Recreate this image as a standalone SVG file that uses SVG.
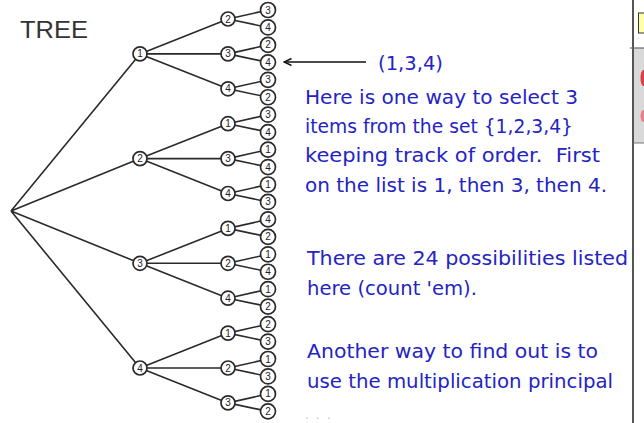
<svg xmlns="http://www.w3.org/2000/svg" width="644" height="423" viewBox="0 0 644 423">
<style>
.e{stroke:#2a2a2a;stroke-width:1.6;fill:none}
.n circle{fill:#fff;stroke:#2a2a2a;stroke-width:1.7}
.n text{font-family:"Liberation Sans",Arial,sans-serif;font-size:10px;fill:#222;text-anchor:middle}
.t{font-family:"DejaVu Sans","Noto Sans",sans-serif;font-size:20px;fill:#2424c4}
</style>
<defs>
<marker id="ah" markerWidth="10" markerHeight="10" refX="8.5" refY="5" orient="auto" markerUnits="userSpaceOnUse">
<path d="M1,1.5 L8.5,5 L1,8.5" fill="none" stroke="#111" stroke-width="1.4"/>
</marker>
</defs>
<rect width="644" height="423" fill="#fff"/>
<text x="20" y="38" font-family="Liberation Sans,Arial,sans-serif" font-size="24" fill="#333" textLength="68" lengthAdjust="spacingAndGlyphs">TREE</text>
<g id="connectors">
<path class="e" d="M11,211 L140,53.9 M11,211 L140,158.6 M11,211 L140,263.3 M11,211 L140,368"/>
<path class="e" d="M140,53.9 L228,19 M140,53.9 L228,53.9 M140,53.9 L228,88.8
M140,158.6 L228,123.7 M140,158.6 L228,158.6 M140,158.6 L228,193.5
M140,263.3 L228,228.4 M140,263.3 L228,263.3 M140,263.3 L228,298.2
M140,368 L228,333.1 M140,368 L228,368 M140,368 L228,402.9"/>
<path class="e" d="M228,19 L268,10 M228,19 L268,27.45
M228,53.9 L268,44.9 M228,53.9 L268,62.35
M228,88.8 L268,79.8 M228,88.8 L268,97.25
M228,123.7 L268,114.7 M228,123.7 L268,132.15
M228,158.6 L268,149.6 M228,158.6 L268,167.05
M228,193.5 L268,184.5 M228,193.5 L268,201.95
M228,228.4 L268,219.4 M228,228.4 L268,236.85
M228,263.3 L268,254.3 M228,263.3 L268,271.75
M228,298.2 L268,289.2 M228,298.2 L268,306.65
M228,333.1 L268,324.1 M228,333.1 L268,341.55
M228,368 L268,359 M228,368 L268,376.45
M228,402.9 L268,393.9 M228,402.9 L268,411.35"/>
<line x1="366" y1="62" x2="284" y2="62" stroke="#111" stroke-width="1.5" marker-end="url(#ah)"/>
</g>
<g id="level1" class="n">
<g id="a1"><circle cx="140" cy="53.9" r="7"/><text x="140" y="57.4">1</text></g>
<g id="a2"><circle cx="140" cy="158.6" r="7"/><text x="140" y="162.1">2</text></g>
<g id="a3"><circle cx="140" cy="263.3" r="7"/><text x="140" y="266.8">3</text></g>
<g id="a4"><circle cx="140" cy="368" r="7"/><text x="140" y="371.5">4</text></g>
</g>
<g id="level2" class="n">
<g id="b12"><circle cx="228" cy="19" r="7"/><text x="228" y="22.5">2</text></g>
<g id="b13"><circle cx="228" cy="53.9" r="7"/><text x="228" y="57.4">3</text></g>
<g id="b14"><circle cx="228" cy="88.8" r="7"/><text x="228" y="92.3">4</text></g>
<g id="b21"><circle cx="228" cy="123.7" r="7"/><text x="228" y="127.2">1</text></g>
<g id="b23"><circle cx="228" cy="158.6" r="7"/><text x="228" y="162.1">3</text></g>
<g id="b24"><circle cx="228" cy="193.5" r="7"/><text x="228" y="197">4</text></g>
<g id="b31"><circle cx="228" cy="228.4" r="7"/><text x="228" y="231.9">1</text></g>
<g id="b32"><circle cx="228" cy="263.3" r="7"/><text x="228" y="266.8">2</text></g>
<g id="b34"><circle cx="228" cy="298.2" r="7"/><text x="228" y="301.7">4</text></g>
<g id="b41"><circle cx="228" cy="333.1" r="7"/><text x="228" y="336.6">1</text></g>
<g id="b42"><circle cx="228" cy="368" r="7"/><text x="228" y="371.5">2</text></g>
<g id="b43"><circle cx="228" cy="402.9" r="7"/><text x="228" y="406.4">3</text></g>
</g>
<g id="leaves" class="n">
<g id="c123"><circle cx="268" cy="10" r="7.5"/><text x="268" y="13.5">3</text></g>
<g id="c124"><circle cx="268" cy="27.45" r="7.5"/><text x="268" y="30.95">4</text></g>
<g id="c132"><circle cx="268" cy="44.9" r="7.5"/><text x="268" y="48.4">2</text></g>
<g id="c134"><circle cx="268" cy="62.35" r="7.5"/><text x="268" y="65.85">4</text></g>
<g id="c143"><circle cx="268" cy="79.8" r="7.5"/><text x="268" y="83.3">3</text></g>
<g id="c142"><circle cx="268" cy="97.25" r="7.5"/><text x="268" y="100.75">2</text></g>
<g id="c213"><circle cx="268" cy="114.7" r="7.5"/><text x="268" y="118.2">3</text></g>
<g id="c214"><circle cx="268" cy="132.15" r="7.5"/><text x="268" y="135.65">4</text></g>
<g id="c231"><circle cx="268" cy="149.6" r="7.5"/><text x="268" y="153.1">1</text></g>
<g id="c234"><circle cx="268" cy="167.05" r="7.5"/><text x="268" y="170.55">4</text></g>
<g id="c241"><circle cx="268" cy="184.5" r="7.5"/><text x="268" y="188">1</text></g>
<g id="c243"><circle cx="268" cy="201.95" r="7.5"/><text x="268" y="205.45">3</text></g>
<g id="c314"><circle cx="268" cy="219.4" r="7.5"/><text x="268" y="222.9">4</text></g>
<g id="c312"><circle cx="268" cy="236.85" r="7.5"/><text x="268" y="240.35">2</text></g>
<g id="c321"><circle cx="268" cy="254.3" r="7.5"/><text x="268" y="257.8">1</text></g>
<g id="c324"><circle cx="268" cy="271.75" r="7.5"/><text x="268" y="275.25">4</text></g>
<g id="c341"><circle cx="268" cy="289.2" r="7.5"/><text x="268" y="292.7">1</text></g>
<g id="c342"><circle cx="268" cy="306.65" r="7.5"/><text x="268" y="310.15">2</text></g>
<g id="c412"><circle cx="268" cy="324.1" r="7.5"/><text x="268" y="327.6">2</text></g>
<g id="c413"><circle cx="268" cy="341.55" r="7.5"/><text x="268" y="345.05">3</text></g>
<g id="c421"><circle cx="268" cy="359" r="7.5"/><text x="268" y="362.5">1</text></g>
<g id="c423"><circle cx="268" cy="376.45" r="7.5"/><text x="268" y="379.95">3</text></g>
<g id="c431"><circle cx="268" cy="393.9" r="7.5"/><text x="268" y="397.4">1</text></g>
<g id="c432"><circle cx="268" cy="411.35" r="7.5"/><text x="268" y="414.85">2</text></g>
</g>
<g id="notes">
<text class="t" x="378" y="70" textLength="65" lengthAdjust="spacingAndGlyphs">(1,3,4)</text>
<text class="t" x="305" y="104" textLength="273" lengthAdjust="spacingAndGlyphs">Here is one way to select 3</text>
<text class="t" x="305" y="133" textLength="268" lengthAdjust="spacingAndGlyphs">items from the set {1,2,3,4}</text>
<text class="t" x="305" y="162" textLength="295" lengthAdjust="spacingAndGlyphs" xml:space="preserve">keeping track of order.  First</text>
<text class="t" x="305" y="192" textLength="302" lengthAdjust="spacingAndGlyphs">on the list is 1, then 3, then 4.</text>
<text class="t" x="307" y="265" textLength="321" lengthAdjust="spacingAndGlyphs">There are 24 possibilities listed</text>
<text class="t" x="307" y="295" textLength="170" lengthAdjust="spacingAndGlyphs">here (count 'em).</text>
<text class="t" x="307" y="358" textLength="291" lengthAdjust="spacingAndGlyphs">Another way to find out is to</text>
<text class="t" x="307" y="388" textLength="306" lengthAdjust="spacingAndGlyphs">use the multiplication principal</text>
<text x="305" y="419" font-family="DejaVu Sans,sans-serif" font-size="12" fill="#c4c4d4" letter-spacing="7">...</text>
</g>
<g id="sidepanel">
<rect x="634" y="48" width="10" height="95" fill="#d9d9d9"/>
<ellipse cx="643.5" cy="78" rx="3" ry="8" fill="#e23a48"/>
<ellipse cx="643.5" cy="116" rx="3" ry="6" fill="#f07a88"/>
<rect x="638.5" y="13" width="7" height="20" fill="#ffffa8" stroke="#333" stroke-width="1"/>
<line x1="633" y1="0" x2="633" y2="423" stroke="#555" stroke-width="2"/>
<line x1="630" y1="48" x2="644" y2="48" stroke="#666" stroke-width="1.2"/>
<line x1="633" y1="143" x2="644" y2="143" stroke="#777" stroke-width="1"/>
</g>
</svg>
